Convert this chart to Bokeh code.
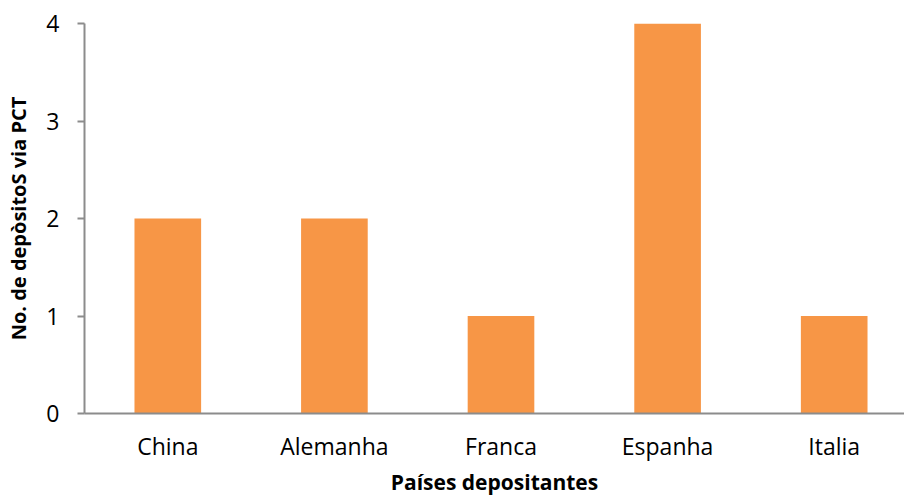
from bokeh.plotting import figure
from bokeh.models import Range1d, FixedTicker
from bokeh.embed import file_html
from bokeh.resources import INLINE

categories = ["China", "Alemanha", "Franca", "Espanha", "Italia"]
values = [2, 2, 1, 4, 1]
y_ticks = [0, 1, 2, 3, 4]

xs = [i + 0.5 for i in range(len(categories))]

p = figure(width=904, height=499, output_backend="svg", toolbar_location=None,
           x_range=Range1d(0, 820 / 166.6), y_range=Range1d(0, 4),
           min_border_left=84, min_border_right=0, min_border_top=23, min_border_bottom=86)
p.frame_width = 820
p.frame_height = 390
p.outline_line_color = None
p.xgrid.visible = False
p.ygrid.visible = False
p.background_fill_color = "white"
p.border_fill_color = "white"

p.vbar(x=xs, top=values, width=0.4, bottom=0, fill_color="#F79646", line_color=None)

font = "Open Sans"
axis_col = "#8C8C8C"

p.xaxis.ticker = FixedTicker(ticks=xs)
p.xaxis.major_label_overrides = {x: c for x, c in zip(xs, categories)}
p.xaxis.major_tick_line_color = None
p.xaxis.minor_tick_line_color = None
p.xaxis.axis_line_color = axis_col
p.xaxis.axis_line_width = 2
p.xaxis.major_label_text_font = font
p.xaxis.major_label_text_font_size = "23px"
p.xaxis.major_label_text_color = "black"
p.xaxis.major_label_standoff = 10
p.xaxis.axis_label = "Países depositantes"
p.xaxis.axis_label_text_font = font
p.xaxis.axis_label_text_font_size = "21px"
p.xaxis.axis_label_text_font_style = "bold"
p.xaxis.axis_label_text_color = "black"
p.xaxis.axis_label_standoff = 3

p.yaxis.ticker = FixedTicker(ticks=y_ticks)
p.yaxis.minor_tick_line_color = None
p.yaxis.major_tick_in = 0
p.yaxis.major_tick_out = 7
p.yaxis.major_tick_line_color = axis_col
p.yaxis.major_tick_line_width = 2
p.yaxis.axis_line_color = axis_col
p.yaxis.axis_line_width = 2
p.yaxis.major_label_text_font = font
p.yaxis.major_label_text_font_size = "23px"
p.yaxis.major_label_text_color = "black"
p.yaxis.major_label_standoff = 18
p.yaxis.axis_label = "No. de depòsitoS via PCT"
p.yaxis.axis_label_text_font = font
p.yaxis.axis_label_text_font_size = "20px"
p.yaxis.axis_label_text_font_style = "bold"
p.yaxis.axis_label_text_color = "black"
p.yaxis.axis_label_standoff = 11

open("out.html", "w").write(file_html(p, INLINE))
